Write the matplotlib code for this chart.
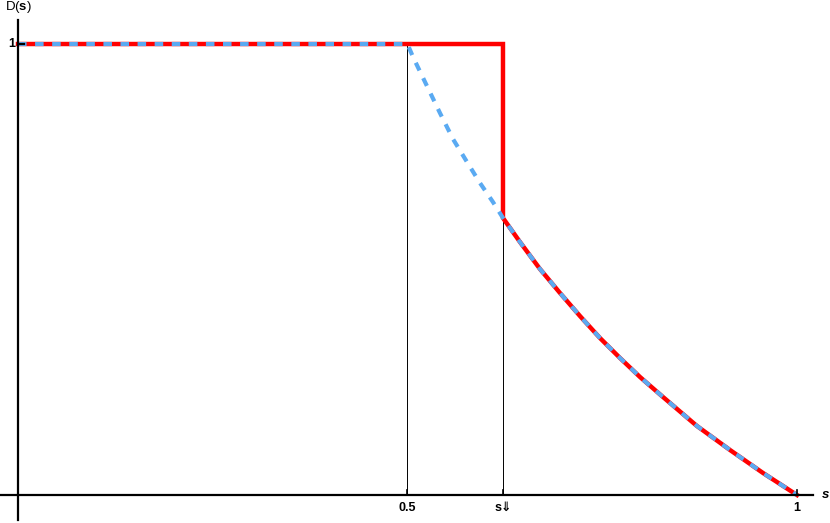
import matplotlib
matplotlib.use("Agg")
import matplotlib.pyplot as plt

plt.rcParams["font.family"] = ["Liberation Sans", "DejaVu Sans"]
plt.rcParams["mathtext.fontset"] = "custom"
plt.rcParams["mathtext.rm"] = "Liberation Sans"
plt.rcParams["mathtext.bf"] = "Liberation Sans:bold"

# --- Data ---
S_HALF = 0.5
S_DOWN = 0.6226         # the "s⇓" point
D_DROP = 0.6142         # value of the curve at s⇓

# decreasing branch of D(s), from s = 0.5 to s = 1
curve_s = [0.5000, 0.5071, 0.5250, 0.5417, 0.5584, 0.5764, 0.5931,
           0.6097, 0.6226, 0.6444, 0.6701, 0.6958, 0.7214, 0.7471,
           0.7728, 0.7985, 0.8280, 0.8716, 0.9140, 0.9564, 1.0000]
curve_d = [1.0000, 0.9712, 0.9069, 0.8470, 0.7894, 0.7384, 0.6918,
           0.6497, 0.6142, 0.5610, 0.5011, 0.4479, 0.3969, 0.3481,
           0.3038, 0.2616, 0.2173, 0.1530, 0.0998, 0.0488, 0.0000]

xtick_pos = [0.5, S_DOWN, 1.0]
xtick_lab = ["0.5", "s\u21d3", "1"]

RED = "#FF0000"
BLUE = "#5AAAF2"

fig = plt.figure(figsize=(8.3, 5.23), dpi=100)
ax = fig.add_axes([0, 0, 1, 1])
ax.set_xlim(-0.0231, 1.0424)
ax.set_ylim(-0.0621, 1.0976)
ax.axis("off")

# red: stays at 1 until s⇓, then jumps down onto the curve
tail = [i for i, s in enumerate(curve_s) if s >= S_DOWN]
red_s = [0.0, S_DOWN] + [curve_s[i] for i in tail]
red_d = [1.0, 1.0] + [curve_d[i] for i in tail]
ax.plot(red_s, red_d, color=RED, lw=3.2, solid_joinstyle="miter", zorder=3)

# blue dashed: flat until 0.5, then the curve
blue_s = [0.0] + curve_s
blue_d = [1.0] + curve_d
ax.plot(blue_s, blue_d, color=BLUE, lw=3.0, dashes=(2.05, 2.05),
        dash_joinstyle="round", zorder=4)

# thin drop lines
ax.plot([S_HALF, S_HALF], [0, 1.0], color="black", lw=0.7, zorder=2)
ax.plot([S_DOWN, S_DOWN], [0, D_DROP], color="black", lw=0.7, zorder=2)

# axes
ax.plot([-0.0218, 1.0205], [0, 0], color="black", lw=1.6, zorder=5)
ax.plot([0, 0], [-0.055, 1.053], color="black", lw=1.6, zorder=5)
ax.plot([0, 0.008], [1, 1], color="black", lw=1.6, zorder=5)
for x in xtick_pos:
    ax.plot([x, x], [0, 0.012], color="black", lw=1.2, zorder=5)

for x, lab in zip(xtick_pos, xtick_lab):
    ax.text(x, -0.029, lab, ha="center", va="center", fontsize=9,
            fontweight="bold")
ax.text(-0.004, 1.0, "1", ha="right", va="center", fontsize=9,
        fontweight="bold")
ax.text(1.037, 0.0, "s", ha="center", va="center", fontsize=9.5,
        style="italic", fontweight="bold")
ax.text(-0.0167, 1.082, r"D($\mathbf{s}$)", ha="left", va="center",
        fontsize=9.5)

fig.savefig("out.png", dpi=100)
